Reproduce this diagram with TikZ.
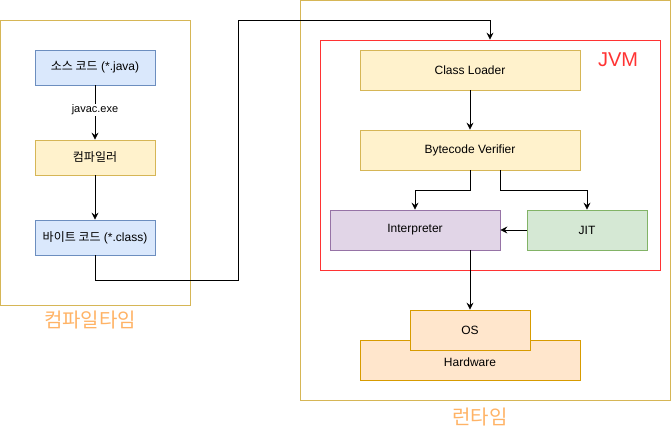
\documentclass[tikz,border=0pt]{standalone}
\usepackage{fontspec}
\setmainfont{Liberation Sans}
\newfontfamily\kr{Noto Sans CJK KR}
\usetikzlibrary{arrows.meta,calc}
\definecolor{contb}{HTML}{D6B656}
\definecolor{lblor}{HTML}{FFB366}
\definecolor{jvmred}{HTML}{FF3333}
\definecolor{bluef}{HTML}{DAE8FC}\definecolor{blued}{HTML}{6C8EBF}
\definecolor{yelf}{HTML}{FFF2CC}\definecolor{yeld}{HTML}{D6B656}
\definecolor{purf}{HTML}{E1D5E7}\definecolor{purd}{HTML}{9673A6}
\definecolor{grnf}{HTML}{D5E8D4}\definecolor{grnd}{HTML}{82B366}
\definecolor{orf}{HTML}{FFE6CC}\definecolor{ord}{HTML}{D79B00}
\tikzset{
  box/.style={draw, rectangle, inner sep=0pt, font=\fontsize{12}{14}\selectfont, line width=0.8pt},
  bluebox/.style={box, fill=bluef, draw=blued},
  yelbox/.style={box, fill=yelf, draw=yeld},
  purbox/.style={box, fill=purf, draw=purd},
  grnbox/.style={box, fill=grnf, draw=grnd},
  orbox/.style={box, fill=orf, draw=ord},
  cont/.style={draw=contb, rectangle, inner sep=0pt, line width=0.8pt},
  arr/.style={draw=black, line width=0.8pt, -{Stealth[length=7pt,width=7pt,inset=2.5pt]}},
  ln/.style={draw=black, line width=0.8pt},
  biglbl/.style={text=lblor, font=\kr\fontsize{20}{22}\selectfont}
}
\begin{document}
\begin{tikzpicture}[x=1pt,y=-1pt]
\useasboundingbox (0,0) rectangle (671,433);
% containers
\node[cont, minimum width=190pt, minimum height=285pt] (ct) at (95,162.5) {};
\node[cont, minimum width=370pt, minimum height=400pt] (rt) at (485,200) {};
\node[biglbl] (ctl) at (90,320) {컴파일타임};
\node[biglbl] (rtl) at (480,417) {런타임};
% compile side
\node[bluebox, minimum width=120pt, minimum height=35pt] (src) at (95,67.5) {{\kr 소스 코드} (*.java)};
\node[yelbox, minimum width=120pt, minimum height=35pt] (cmp) at (95,157.5) {\kr 컴파일러};
\node[bluebox, minimum width=120pt, minimum height=35pt] (bc) at (95,237.5) {{\kr 바이트 코드} (*.class)};
\draw[arr] (src) -- node[fill=white, inner sep=1pt, font=\fontsize{11}{13}\selectfont, pos=0.45] (jl) {javac.exe} (cmp);
\draw[arr] (cmp) -- (bc);
% JVM
\node[draw=jvmred, rectangle, inner sep=0pt, line width=0.8pt, minimum width=340pt, minimum height=230pt] (jvm) at (490,155) {};
\node[text=jvmred, font=\fontsize{20}{22}\selectfont] (jvml) at (618,60) {JVM};
\node[yelbox, minimum width=220pt, minimum height=40pt] (cl) at (470,70) {Class Loader};
\node[yelbox, minimum width=220pt, minimum height=40pt] (ver) at (470,150) {Bytecode Verifier};
\node[purbox, minimum width=170pt, minimum height=40pt] (interp) at (415,230) {Interpreter};
\node[grnbox, minimum width=120pt, minimum height=40pt] (jit) at (587,230) {JIT};
\node[orbox, minimum width=220pt, minimum height=40pt] (hw) at (470,360) {};
\node[font=\fontsize{12}{14}\selectfont] (hwl) at (470,362) {Hardware};
\node[orbox, minimum width=120pt, minimum height=40pt] (os) at (470,330) {OS};
% connectors
\coordinate (p1) at (238,280);
\coordinate (p2) at (238,20);
\draw[arr] (bc.south) |- (p1) -- (p2) -| (jvm.north);
\draw[arr] (cl) -- (ver);
\draw[arr] (ver.south) -- ++(0,20) -| (interp.north);
\draw[arr] ($(ver.south)+(30,0)$) -- ++(0,20) -| (jit.north);
\draw[arr] (jit.west) -- (interp.east);
\draw[arr] (os.north |- interp.south) -- (os.north);
\end{tikzpicture}
\end{document}
